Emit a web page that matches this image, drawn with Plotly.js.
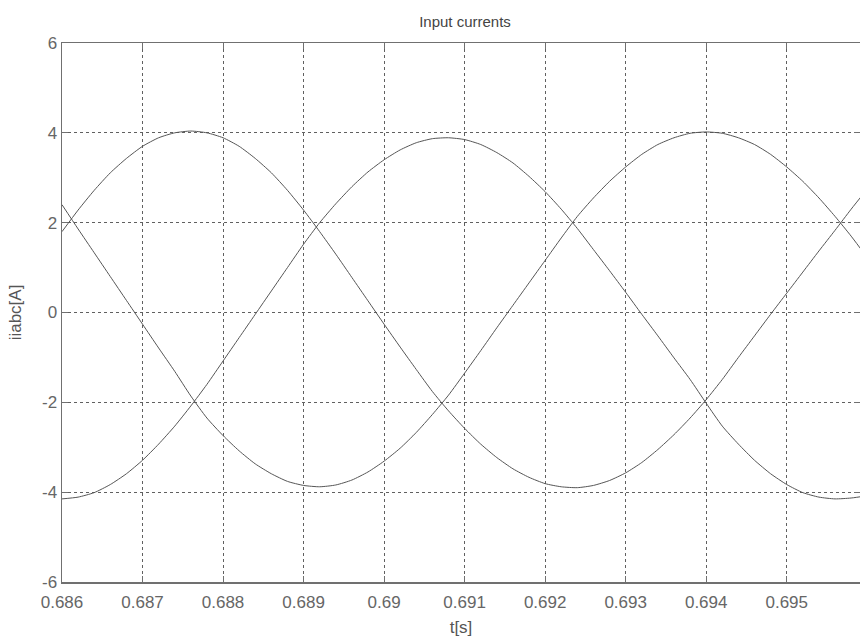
<!DOCTYPE html>
<html>
<head>
<meta charset="utf-8">
<script src="https://cdn.plot.ly/plotly-3.0.1.min.js"></script>
<style>html,body{margin:0;padding:0;background:#fff;overflow:hidden;}#chart{width:860px;height:640px;}</style>
</head>
<body>
<div id="chart"></div>
<script>
const time = [0.6860,0.6862,0.6864,0.6866,0.6868,0.6870,0.6872,0.6874,0.6876,0.6878,
  0.6880,0.6882,0.6884,0.6886,0.6888,0.6890,0.6892,0.6894,0.6896,0.6898,
  0.6900,0.6902,0.6904,0.6906,0.6908,0.6910,0.6912,0.6914,0.6916,0.6918,
  0.6920,0.6922,0.6924,0.6926,0.6928,0.6930,0.6932,0.6934,0.6936,0.6938,
  0.6940,0.6942,0.6944,0.6946,0.6948,0.6950,0.6952,0.6954,0.6956,0.6958,0.6960];

const ia = [1.80,2.28,2.72,3.11,3.43,3.70,3.89,4.00,4.04,4.00,
  3.89,3.70,3.43,3.11,2.72,2.28,1.80,1.30,0.78,0.26,
  -0.26,-0.77,-1.27,-1.76,-2.19,-2.58,-2.93,-3.23,-3.48,-3.67,
  -3.81,-3.88,-3.90,-3.85,-3.74,-3.57,-3.34,-3.05,-2.72,-2.35,
  -1.94,-1.49,-1.00,-0.52,-0.04,0.43,0.90,1.37,1.83,2.30,2.75];

const ib = [-4.15,-4.11,-4.01,-3.83,-3.59,-3.29,-2.93,-2.53,-2.08,-1.60,
  -1.08,-0.56,-0.04,0.48,1.00,1.52,2.00,2.42,2.80,3.13,
  3.40,3.62,3.78,3.87,3.89,3.85,3.74,3.56,3.33,3.03,
  2.69,2.30,1.87,1.40,0.93,0.45,-0.04,-0.52,-1.01,-1.49,
  -2.02,-2.53,-2.93,-3.29,-3.59,-3.83,-4.01,-4.11,-4.15,-4.13,-4.08];

const ic = [2.40,1.86,1.33,0.80,0.27,-0.26,-0.79,-1.31,-1.86,-2.35,
  -2.74,-3.08,-3.37,-3.59,-3.76,-3.85,-3.88,-3.84,-3.73,-3.55,
  -3.31,-3.02,-2.67,-2.27,-1.84,-1.35,-0.85,-0.34,0.16,0.66,
  1.16,1.66,2.14,2.55,2.92,3.24,3.52,3.74,3.89,3.99,
  4.02,3.99,3.89,3.74,3.52,3.24,2.92,2.55,2.14,1.70,1.22];

const xTickVals = [0.686,0.687,0.688,0.689,0.690,0.691,0.692,0.693,0.694,0.695];
const xTickText = ['0.686','0.687','0.688','0.689','0.69','0.691','0.692','0.693','0.694','0.695'];
const yTickVals = [-6,-4,-2,0,2,4,6];
const yTickText = ['-6','-4','-2','0','2','4','6'];

const lineStyle = {color:'#555555', width:1, shape:'spline', smoothing:0.6};
const traces = [ia, ib, ic].map(v => ({
  x: time, y: v, type:'scatter', mode:'lines', line: lineStyle, hoverinfo:'skip'
}));

const FONT = 'Liberation Sans, Arial, sans-serif';
const layout = {
  width: 860, height: 640,
  margin: {l:62, r:0, t:43, b:58},
  paper_bgcolor:'#ffffff', plot_bgcolor:'#ffffff',
  showlegend:false,
  font:{family:FONT, color:'#555555', size:16},
  title:{text:'Input currents', font:{family:FONT, size:15, color:'#444444'},
         x:465/860, xref:'container', xanchor:'center', y:1-22/640, yref:'container', yanchor:'middle'},
  xaxis:{
    range:[0.686, 0.69591], tickvals:xTickVals, ticktext:xTickText,
    showgrid:true, gridcolor:'#606060', griddash:'3px,3px', gridwidth:1,
    zeroline:false, showline:true, linecolor:'#707070', linewidth:1.5, mirror:'ticks',
    ticks:'inside', ticklen:6, tickcolor:'#707070', ticklabelstandoff:4,
    tickfont:{family:FONT, size:17, color:'#666666'},
    title:{text:'t[s]', font:{family:FONT, size:17, color:'#555555'}, standoff:10}
  },
  yaxis:{
    range:[-6, 6], tickvals:yTickVals, ticktext:yTickText,
    showgrid:true, gridcolor:'#606060', griddash:'3px,3px', gridwidth:1,
    zeroline:false, showline:true, linecolor:'#707070', linewidth:1.5, mirror:'ticks',
    ticks:'inside', ticklen:6, tickcolor:'#707070',
    tickfont:{family:FONT, size:17, color:'#666666'},
    title:{text:'iiabc[A]', font:{family:FONT, size:17, color:'#555555'}, standoff:16}
  }
};

Plotly.newPlot('chart', traces, layout, {displayModeBar:false, staticPlot:true});
</script>
</body>
</html>
